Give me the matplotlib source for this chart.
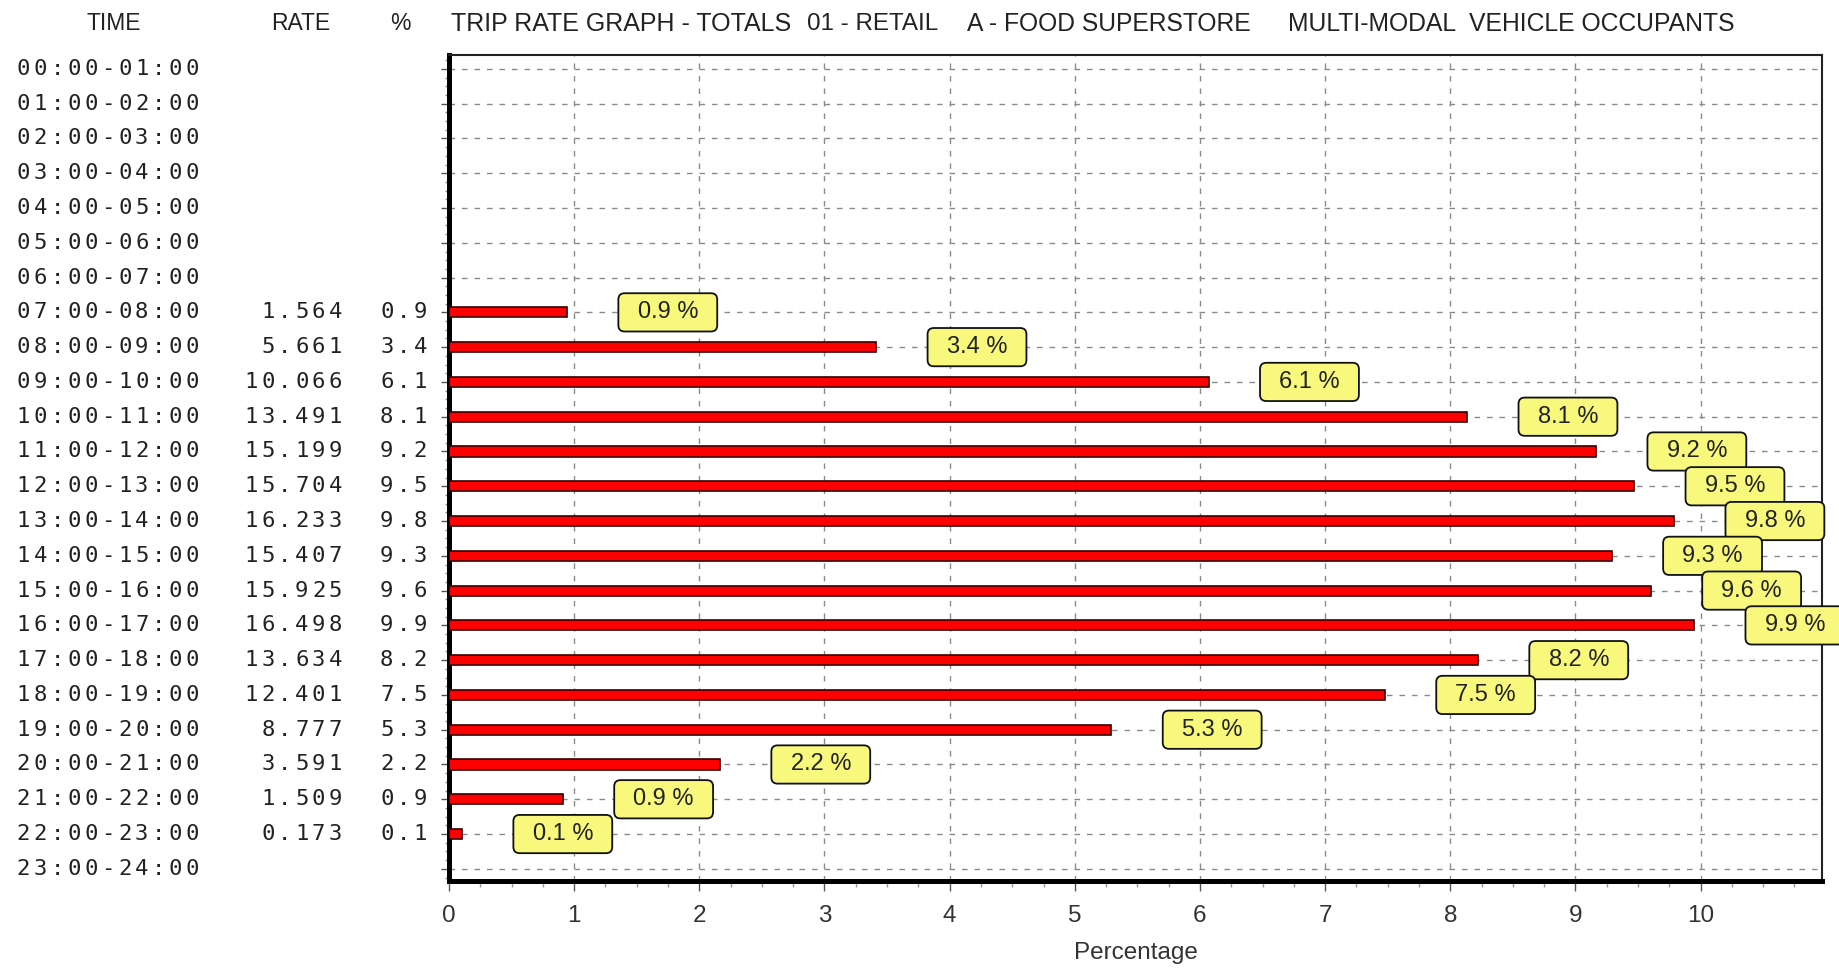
import matplotlib
matplotlib.use("Agg")
import matplotlib.pyplot as plt
from matplotlib.patches import FancyBboxPatch
from matplotlib.transforms import blended_transform_factory
from matplotlib.ticker import MultipleLocator
from matplotlib import font_manager

# ---------------- data ----------------
hours = ["00:00-01:00", "01:00-02:00", "02:00-03:00", "03:00-04:00",
         "04:00-05:00", "05:00-06:00", "06:00-07:00", "07:00-08:00",
         "08:00-09:00", "09:00-10:00", "10:00-11:00", "11:00-12:00",
         "12:00-13:00", "13:00-14:00", "14:00-15:00", "15:00-16:00",
         "16:00-17:00", "17:00-18:00", "18:00-19:00", "19:00-20:00",
         "20:00-21:00", "21:00-22:00", "22:00-23:00", "23:00-24:00"]
rates = [None, None, None, None, None, None, None, 1.564,
         5.661, 10.066, 13.491, 15.199, 15.704, 16.233, 15.407, 15.925,
         16.498, 13.634, 12.401, 8.777, 3.591, 1.509, 0.173, None]
pcts = [None, None, None, None, None, None, None, 0.9,
        3.4, 6.1, 8.1, 9.2, 9.5, 9.8, 9.3, 9.6,
        9.9, 8.2, 7.5, 5.3, 2.2, 0.9, 0.1, None]
xticks = [0, 1, 2, 3, 4, 5, 6, 7, 8, 9, 10]
header_cols = ["TIME", "RATE", "%"]
title_parts = ["TRIP RATE GRAPH - TOTALS", "01 - RETAIL", "A - FOOD SUPERSTORE",
               "MULTI-MODAL  VEHICLE OCCUPANTS"]
xlabel = "Percentage"

# ---------------- fonts ----------------
names = {f.name for f in font_manager.fontManager.ttflist}
NARROW = "Liberation Sans Narrow" if "Liberation Sans Narrow" in names else "Liberation Sans"
MONO = "DejaVu Sans Mono"

W, H = 1839, 969
fig = plt.figure(figsize=(W / 100, H / 100), dpi=100)
fig.patch.set_facecolor("white")
AX_L, AX_R, AX_T, AX_B = 449, 1822, 55, 881
ax = fig.add_axes([AX_L / W, 1 - AX_B / H, (AX_R - AX_L) / W, (AX_B - AX_T) / H])

total = sum(r for r in rates if r is not None)
idx = [i for i, r in enumerate(rates) if r is not None]
bar_len = [rates[i] / total * 100 for i in idx]

ax.barh(idx, bar_len, height=0.29, color="#ff0000", edgecolor="#3a0000",
        linewidth=1.2, zorder=3)

ax.set_xlim(0, 10.97)
ax.set_ylim(23.35, -0.4)
ax.set_xticks(xticks)
ax.set_xticklabels([str(t) for t in xticks], fontsize=17.5, family=NARROW,
                   color="#333333")
ax.xaxis.set_minor_locator(MultipleLocator(0.25))
ax.set_yticks(range(len(hours)))
ax.set_yticklabels([])
ax.yaxis.set_minor_locator(MultipleLocator(0.25))
ax.tick_params(axis="x", which="major", length=7, width=1, pad=10, color="#555555")
ax.tick_params(axis="x", which="minor", length=4, width=1, color="#999999")
ax.tick_params(axis="y", which="major", length=6, width=1, color="#555555")
ax.tick_params(axis="y", which="minor", length=3, width=1, color="#888888")
ax.grid(True, which="major", color="#8a8a8a", linestyle=(0, (4, 5)), linewidth=1.0)
ax.set_axisbelow(True)
for s in ("left", "bottom"):
    ax.spines[s].set_linewidth(3.6)
for s in ("top", "right"):
    ax.spines[s].set_linewidth(1.5)
    ax.spines[s].set_color("#222222")

ax.set_xlabel(xlabel, fontsize=17.5, family=NARROW, color="#333333")
ax.xaxis.set_label_coords(0.5, -0.087)
ax.xaxis.label.set_va("center")

# value boxes
ASPECT = (1 / 34.8) / (1 / 125.1)
for i in idx:
    x_end = rates[i] / total * 100
    x0 = x_end + 0.41
    box = FancyBboxPatch((x0, i - 0.55), 0.79, 1.1,
                         boxstyle="round,pad=0,rounding_size=0.05",
                         mutation_aspect=ASPECT, facecolor="#f8f87c",
                         edgecolor="#111111", linewidth=1.3, clip_on=False,
                         zorder=10 + i)
    ax.add_patch(box)
    ax.text(x0 + 0.395, i, f"{pcts[i]} %", ha="center", va="center",
            fontsize=17, family=NARROW, color="#222222", zorder=10.5 + i,
            clip_on=False)

# left-hand monospaced columns
blend = blended_transform_factory(fig.transFigure, ax.transData)
PITCH = 16.9


def mono(s, x_px, y, align):
    n = len(s)
    for k, ch in enumerate(s):
        if align == "left":
            cx = x_px + PITCH * (k + 0.5)
        else:
            cx = x_px - PITCH * (n - k - 0.5)
        ax.text(cx / W, y, ch, transform=blend, ha="center", va="center",
                fontsize=16, family=MONO, color="#222222", clip_on=False)


for i, hname in enumerate(hours):
    mono(hname, 15, i, "left")
    if rates[i] is not None:
        mono(f"{rates[i]:.3f}", 344, i, "right")
        mono(f"{pcts[i]:.1f}", 429, i, "right")

# header
fig.canvas.draw()
renderer = fig.canvas.get_renderer()


def fit_text(s, x_px, width_px, ha="left", size=18):
    t = fig.text(x_px / W, 1 - 24 / H, s, ha=ha, va="center", fontsize=size,
                 family=NARROW, color="#222222")
    if width_px:
        wpx = t.get_window_extent(renderer).width
        t.set_fontsize(size * width_px / wpx)
    return t


fit_text(header_cols[0], 114, 0, ha="center", size=16.5)
fit_text(header_cols[1], 301, 0, ha="center", size=16.5)
fit_text(header_cols[2], 400, 0, ha="center", size=16.5)
title_pos = [(451, 340), (807, 131), (967, 284), (1288, 448)]
for s, (x, w) in zip(title_parts, title_pos):
    fit_text(s, x, w)

fig.savefig("out.png", dpi=100, facecolor="white")
